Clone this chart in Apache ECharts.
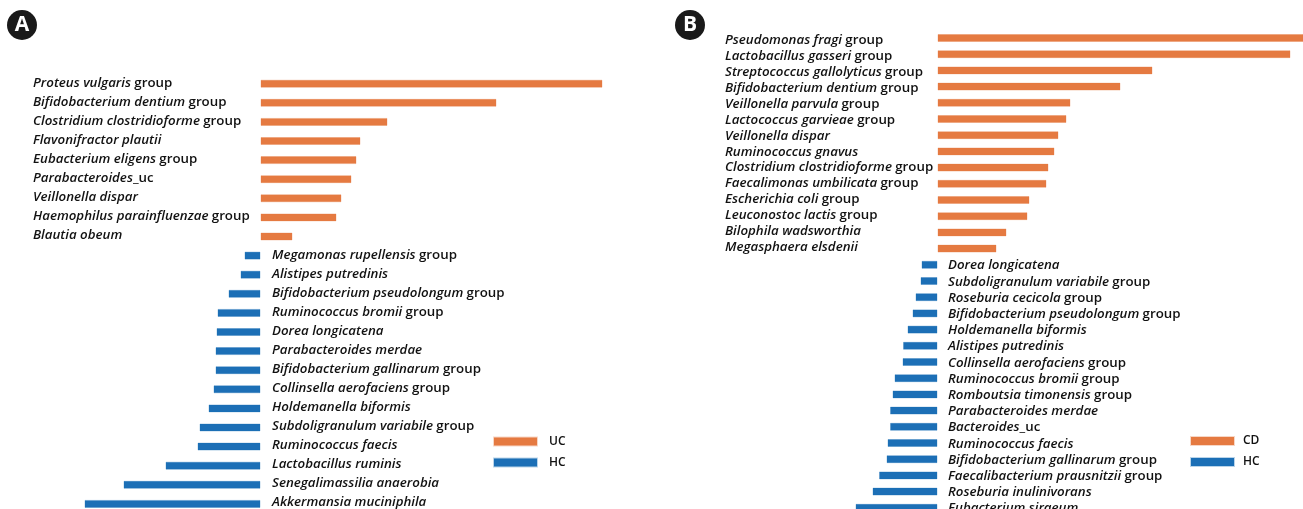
<!DOCTYPE html>
<html><head><meta charset="utf-8">
<style>html,body{margin:0;padding:0;background:#fff}#c{width:1303px;height:509px}</style>
<script src="https://cdn.jsdelivr.net/npm/echarts@6/dist/echarts.min.js"></script>
</head><body><div id="c"></div>
<script>
const ucCategories = ['Proteus vulgaris group','Bifidobacterium dentium group','Clostridium clostridioforme group','Flavonifractor plautii','Eubacterium eligens group','Parabacteroides_uc','Veillonella dispar','Haemophilus parainfluenzae group','Blautia obeum'];
const ucValues = [3.42,2.36,1.27,1.0,0.96,0.91,0.81,0.76,0.32];
const hcACategories = ['Megamonas rupellensis group','Alistipes putredinis','Bifidobacterium pseudolongum group','Ruminococcus bromii group','Dorea longicatena','Parabacteroides merdae','Bifidobacterium gallinarum group','Collinsella aerofaciens group','Holdemanella biformis','Subdoligranulum variabile group','Ruminococcus faecis','Lactobacillus ruminis','Senegalimassilia anaerobia','Akkermansia muciniphila'];
const hcAValues = [-0.16,-0.20,-0.32,-0.43,-0.44,-0.45,-0.45,-0.47,-0.52,-0.61,-0.63,-0.95,-1.37,-1.76];
const cdCategories = ['Pseudomonas fragi group','Lactobacillus gasseri group','Streptococcus gallolyticus group','Bifidobacterium dentium group','Veillonella parvula group','Lactococcus garvieae group','Veillonella dispar','Ruminococcus gnavus','Clostridium clostridioforme group','Faecalimonas umbilicata group','Escherichia coli group','Leuconostoc lactis group','Bilophila wadsworthia','Megasphaera elsdenii'];
const cdValues = [3.70,3.53,2.15,1.83,1.33,1.29,1.21,1.17,1.11,1.09,0.92,0.90,0.69,0.59];
const hcBCategories = ['Dorea longicatena','Subdoligranulum variabile group','Roseburia cecicola group','Bifidobacterium pseudolongum group','Holdemanella biformis','Alistipes putredinis','Collinsella aerofaciens group','Ruminococcus bromii group','Romboutsia timonensis group','Parabacteroides merdae','Bacteroides_uc','Ruminococcus faecis','Bifidobacterium gallinarum group','Faecalibacterium prausnitzii group','Roseburia inulinivorans','Eubacterium siraeum'];
const hcBValues = [-0.16,-0.17,-0.22,-0.25,-0.30,-0.345,-0.35,-0.43,-0.45,-0.475,-0.475,-0.50,-0.51,-0.585,-0.65,-0.82];

const ORANGE='#E57A41', BLUE='#1C6FB6', INK='#111';
const FONT='"Open Sans"';
const rich={
  i:{fontFamily:FONT,fontStyle:'italic',fontWeight:600,fontSize:13.3,color:INK},
  n:{fontFamily:FONT,fontWeight:600,fontSize:13.3,color:INK}
};
function fmt(s){
  if(s.endsWith(' group')) return '{i|'+s.slice(0,-6)+'} {n|group}';
  if(s.endsWith('_uc')) return '{i|'+s.slice(0,-3)+'}{n|_uc}';
  return '{i|'+s+'}';
}
const option={animation:false,backgroundColor:'#fff',grid:[],xAxis:[],yAxis:[],series:[],legend:[],graphic:[]};
function hiddenX(grid,min,max){
  option.xAxis.push({type:'value',gridIndex:grid,min:min,max:max,show:false});
}
function labelAxis(cats,left,center0,step){
  const g=option.grid.length;
  option.grid.push({left:left,width:10,top:center0-step/2,height:step*cats.length,outerBoundsMode:'none'});
  hiddenX(g,0,1);
  option.yAxis.push({type:'category',gridIndex:g,data:cats,inverse:true,
    axisLine:{show:false},axisTick:{show:false},splitLine:{show:false},
    axisLabel:{show:true,interval:0,align:'left',margin:0,formatter:fmt,rich:rich}});
}
function panel(p){
  const g=option.grid.length;
  const cats=p.upCats.concat(p.downCats);
  option.grid.push({left:p.left,width:p.width,top:p.center0-p.step/2,height:p.step*cats.length,outerBoundsMode:'none'});
  hiddenX(g,p.min,p.max);
  option.yAxis.push({type:'category',gridIndex:g,data:cats,inverse:true,show:false});
  const pad=a=>new Array(a).fill(null);
  const base={type:'bar',stack:p.upName+'s',xAxisIndex:g,yAxisIndex:g,barWidth:8};
  option.series.push(Object.assign({},base,{name:p.upName,itemStyle:{color:ORANGE,borderColor:'rgba(229,122,65,.3)',borderWidth:1},data:p.upVals.concat(pad(p.downVals.length))}));
  option.series.push(Object.assign({},base,{name:p.downName,itemStyle:{color:BLUE,borderColor:'rgba(28,111,182,.3)',borderWidth:1},data:pad(p.upVals.length).concat(p.downVals)}));
  labelAxis(p.upCats,p.upX,p.upC,p.upStep);
  labelAxis(p.downCats,p.downX,p.downC,p.downStep);
  option.legend.push({data:[p.upName,p.downName],orient:'vertical',left:p.legX,top:p.legY,icon:'rect',
    itemWidth:43,itemHeight:8,itemGap:7,selectedMode:false,
    textStyle:{fontFamily:FONT,fontWeight:600,fontSize:12,color:INK,padding:[0,0,0,p.legPad],lineHeight:14}});
  option.graphic.push({type:'circle',shape:{cx:p.badgeX,cy:25,r:15},style:{fill:'#1a1a1a'}});
  option.graphic.push({type:'text',x:p.badgeX,y:25,style:{text:p.badge,fill:'#fff',font:'bold 21px '+FONT,align:'center',verticalAlign:'middle'}});
}
panel({left:0,width:650,min:-2.605,max:3.895,center0:83.7,step:19.1,
  upCats:ucCategories,upVals:ucValues,downCats:hcACategories,downVals:hcAValues,upName:'UC',downName:'HC',
  upX:33,upC:83.7,upStep:19.0,downX:272,downC:255,downStep:19.05,legX:488,legY:429.5,legPad:7,badge:'A',badgeX:22});
panel({left:660,width:643,min:-2.775,max:3.655,center0:38,step:16.2,
  upCats:cdCategories,upVals:cdValues,downCats:hcBCategories,downVals:hcBValues,upName:'CD',downName:'HC',
  upX:725,upC:40.7,upStep:15.87,downX:948,downC:265.7,downStep:16.2,legX:1185,legY:429,legPad:4,badge:'B',badgeX:690});
echarts.init(document.getElementById('c'),null,{renderer:'canvas'}).setOption(option);
</script></body></html>
